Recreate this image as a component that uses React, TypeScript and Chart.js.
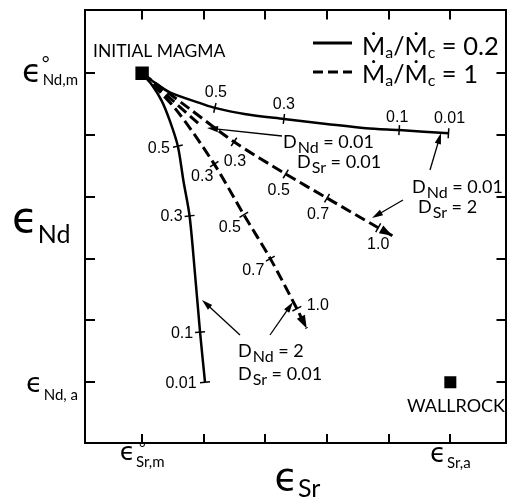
import React, { useEffect, useRef } from "react";
import { Chart, registerables } from "chart.js";

Chart.register(...registerables);

// Normalised isotope axes: initial magma at (Sr 0, Nd 5), wallrock at (Sr 5, Nd 0)
const SR_MIN = -0.9265;
const SR_MAX = 5.895;
const ND_MIN = -0.984;
const ND_MAX = 6.032;
const srTicks = [0, 1, 2, 3, 4, 5];
const ndTicks = [0, 1, 2, 3, 4, 5];

const initialMagma = [{ x: 0, y: 5 }];
const wallrock = [{ x: 5, y: 0 }];

// Ma/Mc = 0.2, DNd = 0.01, DSr = 2 (labels: fraction of magma remaining, F)
const r02LowNd_sr = [0, 0.19, 0.45, 0.99, 1.18, 1.66, 2.3, 2.99, 3.63, 4.17, 4.97];
const r02LowNd_nd = [5, 4.86, 4.69, 4.5, 4.44, 4.34, 4.26, 4.18, 4.11, 4.08, 4.03];
const r02LowNd_marks = [4, 6, 9, 10];
const r02LowNd_labels = ["0.5", "0.3", "0.1", "0.01"];

// Ma/Mc = 0.2, DNd = 2, DSr = 0.01
const r02HighNd_sr = [0, 0.16, 0.32, 0.45, 0.58, 0.67, 0.77, 0.86, 0.94, 1.02];
const r02HighNd_nd = [5, 4.81, 4.55, 4.23, 3.82, 3.26, 2.69, 1.73, 0.81, 0];
const r02HighNd_marks = [4, 6, 8, 9];
const r02HighNd_labels = ["0.5", "0.3", "0.1", "0.01"];

// Ma/Mc = 1, DNd = 0.01, DSr = 2 (labels: mass assimilated / initial mass)
const r1LowNd_sr = [0, 0.75, 1.49, 2.33, 3.0, 3.83, 4.06];
const r1LowNd_nd = [5, 4.44, 3.89, 3.37, 2.98, 2.5, 2.37];
const r1LowNd_marks = [2, 3, 4, 5];
const r1LowNd_labels = ["0.3", "0.5", "0.7", "1.0"];

// Ma/Mc = 1, DNd = 0.01, DSr = 0.01
const r1Equal_sr = [0, 0.91];
const r1Equal_nd = [5, 4.19];

// Ma/Mc = 1, DNd = 2, DSr = 0.01
const r1HighNd_sr = [0, 0.56, 1.17, 1.65, 2.08, 2.51, 2.67];
const r1HighNd_nd = [5, 4.4, 3.53, 2.71, 2.0, 1.19, 0.87];
const r1HighNd_marks = [2, 3, 4, 5];
const r1HighNd_labels = ["0.3", "0.5", "0.7", "1.0"];

const TEXT_FONT = "Lato, 'DejaVu Sans', sans-serif";
const EPS_FONT = "'DejaVu Sans', sans-serif";
const NUM_FONT = "'Liberation Sans Narrow', 'Liberation Sans', Arial, sans-serif";

const toPoints = (xs: number[], ys: number[]) => xs.map((x, i) => ({ x, y: ys[i] }));

type Curve = {
  sr: number[];
  nd: number[];
  dashed: boolean;
  marks: number[];
  labels: string[];
  offsets: number[][];
  arrow: boolean;
};

const curves: Curve[] = [
  { sr: r02LowNd_sr, nd: r02LowNd_nd, dashed: false, marks: r02LowNd_marks, labels: r02LowNd_labels,
    offsets: [[1, -15], [0, -14], [-2, -13], [1, -15]], arrow: false },
  { sr: r02HighNd_sr, nd: r02HighNd_nd, dashed: false, marks: r02HighNd_marks, labels: r02HighNd_labels,
    offsets: [[-19, 2], [-18, 1], [-18, 1], [-24, 1]], arrow: false },
  { sr: r1LowNd_sr, nd: r1LowNd_nd, dashed: true, marks: r1LowNd_marks, labels: r1LowNd_labels,
    offsets: [[1, 20], [-7, 17], [-9, 17], [0, 17]], arrow: true },
  { sr: r1Equal_sr, nd: r1Equal_nd, dashed: true, marks: [], labels: [], offsets: [], arrow: false },
  { sr: r1HighNd_sr, nd: r1HighNd_nd, dashed: true, marks: r1HighNd_marks, labels: r1HighNd_labels,
    offsets: [[-12, 13], [-14, 13], [-17, 12], [21, -3]], arrow: true },
];

type Seg = { t: string; size: number; dy?: number; dx?: number; font?: string; stack?: boolean };

function drawRich(ctx: CanvasRenderingContext2D, x: number, y: number, segs: Seg[], align = "left") {
  let w = 0;
  for (const s of segs) {
    ctx.font = `${s.size}px ${s.font || TEXT_FONT}`;
    if (!s.stack) w += ctx.measureText(s.t).width + (s.dx || 0);
  }
  let cx = align === "right" ? x - w : align === "center" ? x - w / 2 : x;
  ctx.textAlign = "left";
  ctx.textBaseline = "alphabetic";
  for (const s of segs) {
    ctx.font = `${s.size}px ${s.font || TEXT_FONT}`;
    ctx.fillText(s.t, cx + (s.dx || 0), y + (s.dy || 0));
    if (!s.stack) cx += ctx.measureText(s.t).width + (s.dx || 0);
  }
}

function arrowHead(ctx: CanvasRenderingContext2D, fx: number, fy: number, tx: number, ty: number, len: number, half: number) {
  const a = Math.atan2(ty - fy, tx - fx);
  ctx.beginPath();
  ctx.moveTo(tx, ty);
  ctx.lineTo(tx - len * Math.cos(a) + half * Math.sin(a), ty - len * Math.sin(a) - half * Math.cos(a));
  ctx.lineTo(tx - len * Math.cos(a) - half * Math.sin(a), ty - len * Math.sin(a) + half * Math.cos(a));
  ctx.closePath();
  ctx.fill();
}

// pointer arrows from the D labels to the curves they describe (canvas px)
const pointers = [
  [282, 136, 207, 128],
  [430, 170, 441, 133],
  [403, 200, 372, 218],
  [240, 335, 202, 300],
  [270, 335, 293, 302],
];

const figurePlugin = {
  id: "afcFigure",
  afterDatasetsDraw(chart: any) {
    const { ctx, chartArea } = chart;
    const xs = chart.scales.x;
    const ys = chart.scales.y;
    const P = (x: number, y: number) => [xs.getPixelForValue(x), ys.getPixelForValue(y)];
    ctx.save();
    ctx.strokeStyle = "#000";
    ctx.fillStyle = "#000";

    // inward frame ticks
    ctx.lineWidth = 2;
    ctx.beginPath();
    for (const v of srTicks) {
      const px = Math.round(xs.getPixelForValue(v));
      ctx.moveTo(px, chartArea.bottom);
      ctx.lineTo(px, chartArea.bottom - 9);
      ctx.moveTo(px, chartArea.top);
      ctx.lineTo(px, chartArea.top + 10);
    }
    for (const v of ndTicks) {
      const py = Math.round(ys.getPixelForValue(v));
      ctx.moveTo(chartArea.left, py);
      ctx.lineTo(chartArea.left + 10, py);
      ctx.moveTo(chartArea.right, py);
      ctx.lineTo(chartArea.right - 9, py);
    }
    ctx.stroke();

    // tick marks, labels and arrowheads on the AFC curves
    for (const c of curves) {
      const pts = c.sr.map((x, i) => P(x, c.nd[i]));
      ctx.lineWidth = 1.5;
      c.marks.forEach((idx, k) => {
        const a = pts[Math.max(idx - 1, 0)];
        const b = pts[Math.min(idx + 1, pts.length - 1)];
        const ang = Math.atan2(b[1] - a[1], b[0] - a[0]);
        const [px, py] = pts[idx];
        const nx = -Math.sin(ang) * 5;
        const ny = Math.cos(ang) * 5;
        ctx.beginPath();
        ctx.moveTo(px - nx, py - ny);
        ctx.lineTo(px + nx, py + ny);
        ctx.stroke();
        ctx.font = `16px ${NUM_FONT}`;
        ctx.textAlign = "center";
        ctx.textBaseline = "middle";
        ctx.fillText(c.labels[k], px + c.offsets[k][0], py + c.offsets[k][1]);
      });
      if (c.arrow) {
        const a = pts[pts.length - 2];
        const b = pts[pts.length - 1];
        arrowHead(ctx, a[0], a[1], b[0], b[1], 13, 4.5);
      }
    }

    // pointers
    ctx.lineWidth = 1.3;
    for (const [fx, fy, tx, ty] of pointers) {
      const a = Math.atan2(ty - fy, tx - fx);
      ctx.beginPath();
      ctx.moveTo(fx, fy);
      ctx.lineTo(tx - 6 * Math.cos(a), ty - 6 * Math.sin(a));
      ctx.stroke();
      arrowHead(ctx, fx, fy, tx, ty, 11, 3.2);
    }

    // partition-coefficient labels
    const dLabel = (x: number, y: number, sub: string, val: string) =>
      drawRich(ctx, x, y, [
        { t: "D", size: 18 },
        { t: sub, size: 16, dy: 5, dx: 1 },
        { t: " = " + val, size: 18 },
      ]);
    dLabel(283, 148, "Nd", "0.01");
    dLabel(297, 168, "Sr", "0.01");
    dLabel(412, 193, "Nd", "0.01");
    dLabel(418, 213, "Sr", "2");
    dLabel(238, 357, "Nd", "2");
    dLabel(238, 380, "Sr", "0.01");

    // end-member labels
    ctx.font = `17.5px ${TEXT_FONT}`;
    ctx.textAlign = "left";
    ctx.textBaseline = "alphabetic";
    ctx.fillText("INITIAL MAGMA", 93, 57);
    ctx.font = `18px ${TEXT_FONT}`;
    ctx.fillText("WALLROCK", 407, 412);

    // legend
    ctx.lineWidth = 3;
    ctx.beginPath();
    ctx.moveTo(313, 43);
    ctx.lineTo(352, 43);
    ctx.stroke();
    ctx.setLineDash([10, 5]);
    ctx.beginPath();
    ctx.moveTo(313, 72);
    ctx.lineTo(352, 72);
    ctx.stroke();
    ctx.setLineDash([]);
    const legendText = (y: number, val: string) =>
      drawRich(ctx, 362, y, [
        { t: "Ṁ", size: 25 },
        { t: "a", size: 16, dy: 3 },
        { t: "/", size: 25 },
        { t: "Ṁ", size: 25 },
        { t: "c", size: 16, dy: 3 },
        { t: " = " + val, size: 25.5 },
      ]);
    legendText(55, "0.2");
    legendText(83, "1");

    // axis end-member tick labels
    const left = chartArea.left;
    drawRich(ctx, left - 7, 82, [
      { t: "ϵ", size: 32, font: EPS_FONT },
      { t: "°", size: 19, dy: -12, stack: true, dx: 0 },
      { t: "Nd,m", size: 15, dy: 3, dx: 1 },
    ], "right");
    drawRich(ctx, left - 7, 392, [
      { t: "ϵ", size: 27, font: EPS_FONT },
      { t: "Nd, a", size: 15, dy: 8, dx: 1 },
    ], "right");
    drawRich(ctx, xs.getPixelForValue(0), 460, [
      { t: "ϵ", size: 25, font: EPS_FONT },
      { t: "°", size: 16, dy: -7, stack: true, dx: 4 },
      { t: "Sr,m", size: 15, dy: 7, dx: 1 },
    ], "center");
    drawRich(ctx, xs.getPixelForValue(5), 462, [
      { t: "ϵ", size: 26, font: EPS_FONT },
      { t: "Sr,a", size: 15, dy: 6, dx: 1 },
    ], "center");

    // axis titles
    drawRich(ctx, 12, 232, [
      { t: "ϵ", size: 42, font: EPS_FONT },
      { t: "Nd", size: 25, dy: 11, dx: 0 },
    ]);
    drawRich(ctx, (chartArea.left + 510) / 2, 490, [
      { t: "ϵ", size: 38, font: EPS_FONT },
      { t: "Sr", size: 25, dy: 7, dx: 0 },
    ], "center");

    ctx.restore();
  },
};

export default function App() {
  const canvasRef = useRef<HTMLCanvasElement | null>(null);

  useEffect(() => {
    const canvas = canvasRef.current;
    if (!canvas) return;
    const lineSets = curves.map((c) => ({
      data: toPoints(c.sr, c.nd),
      showLine: true,
      borderColor: "#000",
      borderWidth: c.dashed ? 3 : 2.5,
      borderDash: c.dashed ? [11, 5] : [],
      tension: 0.3,
      pointRadius: 0,
      fill: false,
    }));
    const frame = (pos: string, size: number, horizontal: boolean) => ({
      type: "linear" as const,
      position: pos,
      min: horizontal ? SR_MIN : ND_MIN,
      max: horizontal ? SR_MAX : ND_MAX,
      grid: { display: false, drawTicks: false },
      ticks: { display: false },
      border: { display: true, color: "#000", width: 2 },
      afterFit: (s: any) => {
        if (horizontal) s.height = size;
        else s.width = size;
      },
    });
    const chart = new Chart(canvas, {
      type: "scatter",
      data: {
        datasets: [
          { data: initialMagma, pointStyle: "rect", pointRadius: 9.5, backgroundColor: "#000", borderWidth: 0 },
          { data: wallrock, pointStyle: "rect", pointRadius: 8.5, backgroundColor: "#000", borderWidth: 0 },
          ...lineSets,
        ] as any,
      },
      options: {
        responsive: false,
        animation: false,
        devicePixelRatio: 1,
        layout: { padding: 0 },
        plugins: { legend: { display: false }, tooltip: { enabled: false } },
        scales: {
          x: frame("bottom", 55, true),
          x2: frame("top", 8, true),
          y: frame("left", 85, false),
          y2: frame("right", 3, false),
        } as any,
      },
      plugins: [figurePlugin],
    });
    return () => chart.destroy();
  }, []);

  return (
    <div style={{ position: "fixed", left: 0, top: 0, width: 511, height: 498, overflow: "hidden", background: "#fff" }}>
      <canvas ref={canvasRef} width={515} height={498} />
    </div>
  );
}
